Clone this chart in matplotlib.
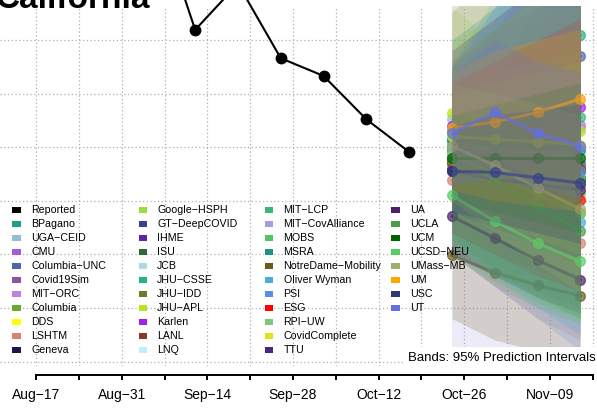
import matplotlib
matplotlib.use("Agg")
import matplotlib.pyplot as plt
import matplotlib.dates as mdates
from matplotlib.patches import Rectangle
import pandas as pd

plt.rcParams['font.family'] = ['Liberation Sans', 'DejaVu Sans']

W, H = 597, 413

# weekly reported deaths (most of the early part sits above the visible window)
reported_dates = pd.to_datetime(['2020-08-08', '2020-08-15', '2020-08-22', '2020-08-29',
                                 '2020-09-05', '2020-09-12', '2020-09-19', '2020-09-26',
                                 '2020-10-03', '2020-10-10', '2020-10-17'])
reported = [950, 980, 1000, 930, 959, 719, 805, 666, 633, 552, 491]

forecast_dates = pd.to_datetime(['2020-10-24', '2020-10-31', '2020-11-07', '2020-11-14'])

models = ['BPagano', 'UGA-CEID', 'CMU', 'Columbia-UNC', 'Covid19Sim', 'MIT-ORC', 'Columbia',
          'DDS', 'LSHTM', 'Geneva', 'Google-HSPH', 'GT-DeepCOVID', 'IHME', 'ISU', 'JCB',
          'JHU-CSSE', 'JHU-IDD', 'JHU-APL', 'Karlen', 'LANL', 'LNQ', 'MIT-LCP',
          'MIT-CovAlliance', 'MOBS', 'MSRA', 'NotreDame-Mobility', 'Oliver Wyman', 'PSI',
          'ESG', 'RPI-UW', 'CovidComplete', 'TTU', 'UA', 'UCLA', 'UCM', 'UCSD-NEU',
          'UMass-MB', 'UM', 'USC', 'UT']

colors = ['#1f9e89', '#94bfd0', '#a35bd8', '#5068aa', '#8a55a5', '#c080e0', '#6aab2f',
          '#ffff00', '#d8836b', '#21124f', '#98dd3c', '#3e3f9b', '#5a23a0', '#2e6a34',
          '#add8e6', '#27b08a', '#6c7b2b', '#bce222', '#a020f0', '#8b3a23', '#bdefff',
          '#36b878', '#a99bdc', '#50c566', '#20908c', '#6b5a1f', '#4aaed8', '#5b8fe6',
          '#ff0000', '#7ec87e', '#dce319', '#472878', '#4e1e6b', '#4a9a50', '#006400',
          '#55cc66', '#9caf6a', '#ffa500', '#2e3873', '#6370e0']

point = [[505, 490, 478, 470], [552, 545, 540, 535], [500, 488, 477, 466], [494, 550, 610, 670],
         [480, 470, 462, 455], [515, 525, 533, 541], [470, 430, 400, 377], [490, 480, 470, 460],
         [438, 400, 360, 321], [460, 450, 445, 440], [485, 460, 435, 412], [470, 455, 440, 430],
         [480, 470, 462, 455], [475, 460, 450, 440], [510, 500, 495, 490], [513, 580, 650, 709],
         [495, 480, 470, 462], [564, 552, 540, 530], [540, 560, 570, 575], [480, 470, 465, 460],
         [500, 495, 490, 485], [530, 540, 548, 556], [490, 470, 450, 430], [485, 470, 455, 444],
         [513, 505, 500, 495], [298, 266, 242, 223], [470, 430, 395, 360], [500, 485, 470, 455],
         [472, 448, 424, 401], [485, 450, 410, 377], [520, 515, 510, 505], [455, 440, 430, 420],
         [371, 330, 289, 253], [476, 440, 390, 343], [479, 479, 479, 479], [410, 362, 321, 287],
         [502, 466, 424, 384], [536, 547, 565, 590], [455, 453, 443, 433], [526, 565, 526, 502]]

lower = [[420, 380, 345, 310], [470, 440, 410, 380], [420, 390, 360, 330], [380, 380, 400, 420],
         [400, 370, 340, 310], [420, 400, 390, 380], [300, 240, 200, 170], [380, 340, 300, 270],
         [300, 240, 180, 140], [380, 350, 330, 310], [320, 260, 210, 170], [380, 350, 320, 290],
         [400, 360, 330, 300], [330, 280, 240, 200], [350, 300, 260, 230], [400, 420, 450, 480],
         [300, 260, 230, 200], [450, 420, 400, 380], [430, 420, 410, 400], [340, 300, 270, 240],
         [320, 260, 200, 150], [340, 300, 260, 230], [110, 110, 110, 110], [300, 250, 210, 180],
         [380, 340, 310, 280], [180, 140, 120, 100], [330, 260, 200, 150], [300, 240, 180, 120],
         [340, 300, 260, 230], [300, 250, 200, 170], [400, 360, 330, 300], [380, 350, 320, 290],
         [300, 260, 220, 190], [330, 270, 220, 180], [400, 380, 360, 340], [320, 260, 220, 180],
         [400, 340, 280, 230], [420, 400, 390, 380], [380, 360, 340, 320], [430, 440, 420, 400]]

upper = [[600, 640, 680, 720], [640, 660, 690, 720], [620, 680, 740, 800], [640, 760, 880, 1000],
         [600, 650, 700, 760], [620, 660, 700, 720], [600, 620, 640, 660], [700, 740, 720, 700],
         [600, 620, 620, 640], [560, 640, 760, 860], [760, 700, 680, 680], [650, 720, 820, 900],
         [580, 600, 620, 640], [650, 720, 780, 840], [620, 740, 860, 940], [650, 780, 900, 1000],
         [750, 820, 900, 980], [780, 760, 760, 760], [660, 720, 760, 800], [640, 680, 700, 720],
         [640, 760, 880, 960], [660, 720, 780, 820], [900, 950, 1000, 1050], [620, 640, 660, 680],
         [700, 760, 820, 880], [450, 460, 470, 480], [620, 660, 700, 740], [640, 760, 880, 960],
         [620, 660, 700, 740], [600, 620, 640, 660], [660, 720, 780, 840], [680, 740, 800, 860],
         [500, 480, 440, 420], [560, 560, 520, 500], [560, 580, 600, 620], [500, 470, 440, 420],
         [620, 600, 580, 560], [640, 680, 700, 720], [540, 560, 570, 580], [640, 700, 660, 640]]

fig = plt.figure(figsize=(W / 100, H / 100), dpi=100)

# plot region: top at 6 px, bottom at 366 px, wider than the picture on both sides
ax = fig.add_axes([0, (H - 366) / H, 1, (366 - 6) / H])
start = mdates.date2num(pd.Timestamp('2020-08-17'))
ax.set_xlim(start - 36.2 / 6.114, start + (W - 36.2) / 6.114)
ax.set_ylim(100 - (366 - 361.5) / 0.5358, 100 + (361.5 - 6) / 0.5358)

weeks = pd.date_range('2020-08-17', '2020-11-16', freq='7D')
week_nums = mdates.date2num(weeks)
ax.set_xticks(week_nums)
ax.set_xticklabels([d.strftime('%b-%d').replace('-', '\u2212') if i % 2 == 0 else ''
                    for i, d in enumerate(weeks)], fontsize=11)
ax.set_yticks(range(100, 701, 100))
ax.tick_params(axis='y', left=False, labelleft=False)
ax.tick_params(axis='x', length=3.5, width=1.4, pad=5.5, color='black')
ax.grid(True, color='#b0b0b0', linestyle=(0, (1, 2)), linewidth=0.9)
ax.set_axisbelow(True)
for s in ['top', 'right', 'left']:
    ax.spines[s].set_visible(False)
ax.spines['bottom'].set_position(('outward', 6.7))
ax.spines['bottom'].set_bounds(week_nums[0], week_nums[-1])
ax.spines['bottom'].set_linewidth(1.4)
ax.patch.set_alpha(0)

fx = mdates.date2num(forecast_dates)
# each model: band then line, so later models cover earlier lines
for i, m in enumerate(models):
    ax.fill_between(fx, lower[i], upper[i], color=colors[i], alpha=0.2,
                    linewidth=0, zorder=3 + 2 * i)
    ax.plot(fx, point[i], '-o', color=colors[i], lw=2.2, ms=7, alpha=0.7,
            zorder=4 + 2 * i)

ax.plot(mdates.date2num(reported_dates), reported, '-o', color='black', lw=1.5, ms=7.5,
        clip_on=False, zorder=200)

# legend, 4 columns of 11 rows
labels = ['Reported'] + models
lcolors = ['black'] + colors
for k, (lab, c) in enumerate(zip(labels, lcolors)):
    col, row = k // 11, k % 11
    tx = 31 + 126.3 * col
    ty = 210 + 14.0 * row
    mx = tx - 14.5
    fig.add_artist(Rectangle(((mx - 4.3) / W, 1 - (ty + 3.4) / H), 8.6 / W, 6.8 / H,
                             transform=fig.transFigure, color=c, lw=0))
    fig.text(tx / W, 1 - ty / H, lab.replace('-', '\u2212'), fontsize=7.7,
             ha='left', va='center')

fig.text(596 / W, 1 - 358 / H, 'Bands: 95% Prediction Intervals', fontsize=9.5,
         ha='right', va='center',
         bbox=dict(boxstyle='square,pad=0.35', fc='white', ec='none'))

fig.text(-4 / W, 1 - 8.5 / H, 'California', fontsize=24, fontweight='bold',
         ha='left', va='baseline')

fig.savefig('out.png', dpi=100)
